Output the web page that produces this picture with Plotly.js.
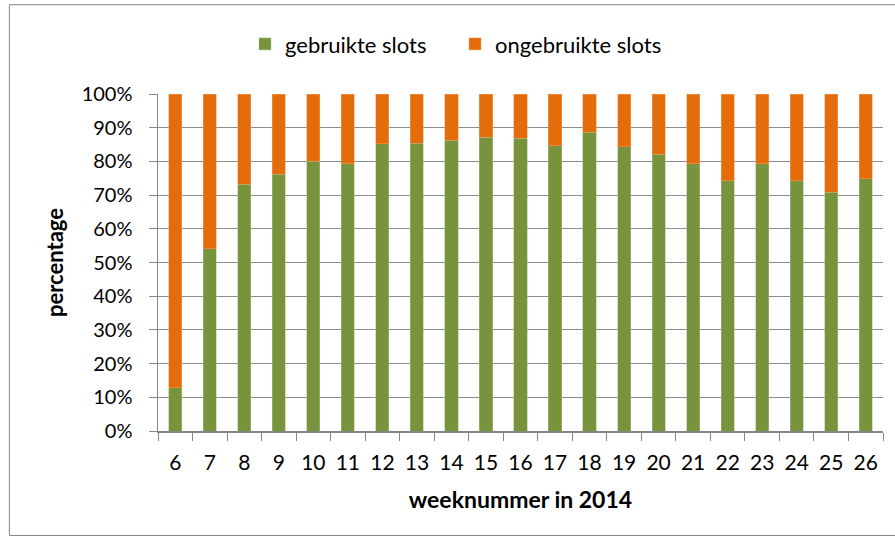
<!DOCTYPE html>
<html><head><meta charset="utf-8">
<script src="https://cdn.plot.ly/plotly-3.0.1.min.js"></script>
<style>body{margin:0;background:#fff}#c{width:895px;height:542px}</style>
</head><body><div id="c"></div>
<script>
const weeks = ["6","7","8","9","10","11","12","13","14","15","16","17","18","19","20","21","22","23","24","25","26"];
const gebruikt = [12.9,54.1,73.2,76.2,80.1,79.3,85.2,85.4,86.3,87.2,86.9,84.6,88.7,84.3,82.1,79.3,74.2,79.3,74.2,70.9,74.8];
const ongebruikt = gebruikt.map(v => +(100 - v).toFixed(1));
const yTicks = [0,10,20,30,40,50,60,70,80,90,100];
const yTickText = yTicks.map(v => v + "%");

const font = "Lato, 'Liberation Sans', sans-serif";
const traces = [
  {type:"bar", name:"gebruikte slots", x:weeks, y:gebruikt, marker:{color:"#77933C", line:{color:"#a9c08a", width:0.5}}},
  {type:"bar", name:"ongebruikte slots", x:weeks, y:ongebruikt, marker:{color:"#E46C0A", line:{color:"#f0a060", width:0.5}}}
];
const layout = {
  width:895, height:542, barmode:"stack", bargap:0.62,
  paper_bgcolor:"#fff", plot_bgcolor:"#fff",
  margin:{l:158, r:12, t:94, b:111},
  font:{family:font, size:20, color:"#000"},
  showlegend:true,
  legend:{orientation:"h", x:0.12, xanchor:"left", y:1.148, yanchor:"middle", font:{size:22}, itemwidth:30, entrywidth:165, traceorder:"normal"},
  xaxis:{type:"category", showline:true, linecolor:"#868686", linewidth:1.5, ticks:"outside", ticklen:8, tickcolor:"#868686", tickson:"boundaries", ticklabelstandoff:12,
    tickfont:{size:21},
    title:{text:"<b>weeknummer in 2014</b>", font:{size:23}, standoff:19}, automargin:false},
  yaxis:{range:[0,100], tickvals:yTicks, ticktext:yTickText, showgrid:true, gridcolor:"#8c8c8c", gridwidth:1.2, showline:true, linecolor:"#868686", linewidth:1.5,
    ticks:"outside", ticklen:8, tickcolor:"#868686", tickfont:{size:20}, zeroline:false, ticklabelstandoff:12,
    title:{text:"<b>percentage</b>", font:{size:22}, standoff:12}, automargin:false},
  shapes:[{type:"rect", xref:"paper", yref:"paper", x0:-0.205, x1:1.2, y0:-0.31, y1:1.265, line:{color:"#868686", width:1}, fillcolor:"rgba(0,0,0,0)", layer:"below"}]
};
Plotly.newPlot("c", traces, layout, {displayModeBar:false, staticPlot:true});
</script></body></html>
